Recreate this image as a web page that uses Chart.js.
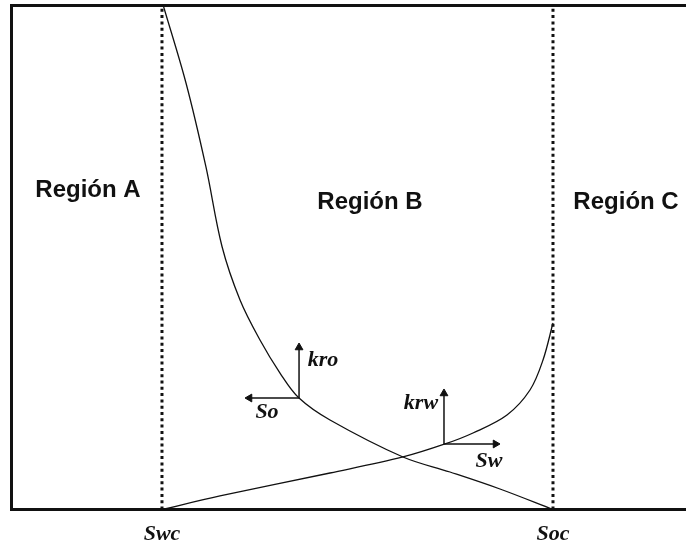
<!DOCTYPE html>
<html lang="es">
<head>
<meta charset="utf-8">
<title>Permeabilidades relativas</title>
<script src="https://cdn.jsdelivr.net/npm/chart.js@4/dist/chart.umd.min.js"></script>
<style>
  html, body { margin: 0; padding: 0; background: #ffffff; }
  canvas { display: block; }
</style>
</head>
<body>
<canvas id="chart" width="686" height="546"></canvas>
<script>
// Saturation end points (water saturation, fraction of the plotted span)
const SAT_TICKS = [0.2231, 0.8028];
const SAT_TICK_LABELS = ['Swc', 'Soc'];

// Oil relative permeability curve
const SW_KRO = [0.2250, 0.2587, 0.2883, 0.3121, 0.3388, 0.3684, 0.3981, 0.4263, 0.4722, 0.5804, 0.6501, 0.7242, 0.8028];
const KRO    = [1.0000, 0.8462, 0.6796, 0.5218, 0.4157, 0.3363, 0.2708, 0.2212, 0.1776, 0.1042, 0.0744, 0.0407, 0.0000];

// Water relative permeability curve
const SW_KRW = [0.2231, 0.3091, 0.4722, 0.5804, 0.6427, 0.6842, 0.7346, 0.7687, 0.7880, 0.8028];
const KRW    = [0.0000, 0.0270, 0.0724, 0.1042, 0.1300, 0.1518, 0.1875, 0.2371, 0.2966, 0.3700];

// Direction arrows: [up end, origin, side end] for each curve
const KRO_ARROW_X = [0.4263, 0.4263, 0.3529];
const KRO_ARROW_Y = [0.3214, 0.2212, 0.2212];
const KRW_ARROW_X = [0.6412, 0.6412, 0.7176];
const KRW_ARROW_Y = [0.2302, 0.1300, 0.1300];

// Region names and where they sit
const REGION_NAMES = ['Región A', 'Región B', 'Región C'];
const REGION_X = [0.1134, 0.5315, 0.9111];
const REGION_Y = [0.6340, 0.6100, 0.6100];

// Arrow captions
const ARROW_LABELS = ['kro', 'So', 'krw', 'Sw'];
const ARROW_LABEL_X = [0.4618, 0.3788, 0.6071, 0.7079];
const ARROW_LABEL_Y = [0.2966, 0.1935, 0.2113, 0.0962];

const INK = '#111111';
const pts = (xs, ys) => xs.map((x, i) => ({ x: x, y: ys[i] }));

const textPlugin = {
  id: 'chartText',
  afterDatasetsDraw(chart) {
    const { ctx, scales: { x, y } } = chart;
    ctx.save();
    ctx.fillStyle = INK;
    ctx.textAlign = 'center';
    ctx.textBaseline = 'middle';
    ctx.font = 'bold 24px "Liberation Sans", Arial, sans-serif';
    REGION_NAMES.forEach((t, i) => {
      ctx.fillText(t, x.getPixelForValue(REGION_X[i]), y.getPixelForValue(REGION_Y[i]));
    });
    ctx.font = 'italic bold 22px "Liberation Serif", "Times New Roman", serif';
    ARROW_LABELS.forEach((t, i) => {
      ctx.fillText(t, x.getPixelForValue(ARROW_LABEL_X[i]), y.getPixelForValue(ARROW_LABEL_Y[i]));
    });
    ctx.restore();
  }
};

const curve = (data) => ({
  data: data,
  borderColor: INK,
  borderWidth: 1.3,
  pointRadius: 0,
  tension: 0.35,
  fill: false
});

const dotted = (sat) => ({
  data: [{ x: sat, y: 0 }, { x: sat, y: 1 }],
  borderColor: INK,
  borderWidth: 3,
  borderDash: [3, 3.3],
  borderCapStyle: 'butt',
  pointRadius: 0,
  fill: false
});

const arrow = (xs, ys, sideRotation) => ({
  data: pts(xs, ys),
  borderColor: INK,
  borderWidth: 1.5,
  tension: 0,
  pointStyle: 'triangle',
  pointRadius: [4.5, 0, 4.5],
  rotation: [0, 0, sideRotation],
  pointBackgroundColor: INK,
  pointBorderColor: INK,
  pointBorderWidth: 1,
  fill: false
});

// Frame scales: no side padding, fixed heights so the plot box is exact
const noSidePad = (s) => { s.paddingLeft = 0; s.paddingRight = 0; };

new Chart(document.getElementById('chart'), {
  type: 'line',
  data: {
    datasets: [
      dotted(SAT_TICKS[0]),
      dotted(SAT_TICKS[1]),
      curve(pts(SW_KRO, KRO)),
      curve(pts(SW_KRW, KRW)),
      arrow(KRO_ARROW_X, KRO_ARROW_Y, -90),
      arrow(KRW_ARROW_X, KRW_ARROW_Y, 90)
    ]
  },
  options: {
    responsive: false,
    animation: false,
    events: [],
    layout: { autoPadding: false, padding: { left: 11.5, top: 5.5, right: 0, bottom: 0 } },
    plugins: { legend: { display: false }, tooltip: { enabled: false } },
    scales: {
      x: {
        type: 'linear',
        position: 'bottom',
        min: 0,
        max: 1,
        grid: { display: false, drawTicks: false },
        border: { display: true, width: 3, color: INK },
        afterBuildTicks: (s) => { s.ticks = SAT_TICKS.map(v => ({ value: v })); },
        afterFit: (s) => { noSidePad(s); s.height = 36.5; },
        ticks: {
          autoSkip: false,
          maxRotation: 0,
          padding: 11.8,
          color: INK,
          font: { family: '"Liberation Serif", "Times New Roman", serif', size: 22, style: 'italic', weight: 'bold' },
          callback: (v, i) => SAT_TICK_LABELS[i]
        }
      },
      xTop: {
        type: 'linear',
        position: 'top',
        min: 0,
        max: 1,
        grid: { display: false, drawTicks: false },
        border: { display: true, width: 3, color: INK },
        afterFit: (s) => { noSidePad(s); s.height = 0; },
        ticks: { display: false }
      },
      y: {
        type: 'linear',
        position: 'left',
        min: 0,
        max: 1,
        grid: { display: false, drawTicks: false },
        border: { display: true, width: 3, color: INK },
        afterFit: (s) => { s.width = 0; },
        ticks: { display: false }
      }
    }
  },
  plugins: [textPlugin]
});
</script>
</body>
</html>
